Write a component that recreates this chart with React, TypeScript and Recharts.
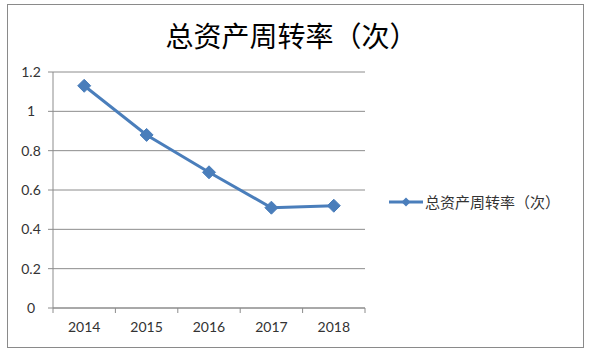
import React from 'react';
import { LineChart, Line, XAxis, YAxis, CartesianGrid } from 'recharts';

const title = '总资产周转率（次）';
const seriesName = '总资产周转率（次）';
const categories = ['2014', '2015', '2016', '2017', '2018'];
const turnover = [1.13, 0.88, 0.69, 0.51, 0.52];
const yTicks = [0, 0.2, 0.4, 0.6, 0.8, 1, 1.2];
const xBoundaries = [0, 1, 2, 3, 4, 5];

const data = categories.map((c, i) => ({ pos: i + 0.5, name: c, value: turnover[i] }));

const W = 597;
const H = 354;
const PLOT_LEFT = 53;
const PLOT_RIGHT = 365;
const PLOT_TOP = 72;
const PLOT_BOTTOM = 308;
const HALF_BAND = (PLOT_RIGHT - PLOT_LEFT) / categories.length / 2;

const BLUE = '#4A7EBB';
const GRID = '#8C8C8C';
const TXT = '#333333';
const FONT = 'Lato, "Liberation Sans", sans-serif';
const CJK = '"Noto Sans CJK SC", sans-serif';

const XTick = (props: any) => {
  const { x, y, payload } = props;
  const i = payload.value;
  if (i >= categories.length) return <g />;
  return (
    <text x={x + HALF_BAND} y={y + 17} textAnchor="middle" fontFamily={FONT} fontSize={14} fill={TXT}>
      {categories[i]}
    </text>
  );
};

const YTick = (props: any) => {
  const { x, y, payload } = props;
  return (
    <text x={x - 15} y={y + 5} textAnchor="middle" fontFamily={FONT} fontSize={14} fill={TXT}>
      {String(payload.value)}
    </text>
  );
};

const Diamond = (props: any) => {
  const { cx, cy, index } = props;
  if (cx == null || cy == null) return <g key={index} />;
  const r = 6.5;
  return (
    <path
      key={index}
      d={`M${cx},${cy - r} L${cx + r},${cy} L${cx},${cy + r} L${cx - r},${cy} Z`}
      fill={BLUE}
      stroke={BLUE}
      strokeWidth={1}
    />
  );
};

export default function App() {
  return (
    <div style={{ position: 'absolute', left: 0, top: 0, width: W, height: H, background: '#fff' }}>
      <div style={{ position: 'absolute', left: 0, top: 0 }}>
        <LineChart
          width={W}
          height={H}
          data={data}
          margin={{ top: PLOT_TOP, right: W - PLOT_RIGHT, bottom: 0, left: 0 }}
        >
          <CartesianGrid vertical={false} stroke={GRID} strokeWidth={1} />
          <XAxis
            type="number"
            dataKey="pos"
            domain={[0, categories.length]}
            ticks={xBoundaries}
            interval={0}
            height={H - PLOT_BOTTOM}
            tick={<XTick />}
            tickSize={5}
            tickLine={{ stroke: GRID }}
            axisLine={{ stroke: GRID }}
          />
          <YAxis
            type="number"
            domain={[0, 1.2]}
            ticks={yTicks}
            interval={0}
            width={PLOT_LEFT}
            tick={<YTick />}
            tickSize={5}
            tickLine={{ stroke: GRID }}
            axisLine={{ stroke: GRID }}
          />
          <Line
            type="linear"
            dataKey="value"
            name={seriesName}
            stroke={BLUE}
            strokeWidth={3}
            dot={<Diamond />}
            activeDot={false}
            isAnimationActive={false}
          />
        </LineChart>
      </div>
      <div
        style={{
          position: 'absolute',
          left: 0,
          width: 583,
          top: 16,
          textAlign: 'center',
          fontFamily: CJK,
          fontSize: 28,
          color: '#000',
          lineHeight: '38px',
        }}
      >
        {title}
      </div>
      <div style={{ position: 'absolute', left: 389, top: 191, display: 'flex', alignItems: 'center' }}>
        <svg width={34} height={12} style={{ display: 'block' }}>
          <line x1={0} y1={6} x2={34} y2={6} stroke={BLUE} strokeWidth={3} />
          <path d="M17,1.5 L21.5,6 L17,10.5 L12.5,6 Z" fill={BLUE} />
        </svg>
        <span style={{ fontFamily: CJK, fontSize: 15, color: TXT, marginLeft: 2, whiteSpace: 'nowrap', lineHeight: '22px' }}>
          {seriesName}
        </span>
      </div>
      <div
        style={{
          position: 'absolute',
          left: 7,
          top: 4,
          width: 577,
          height: 344,
          border: '1px solid #8a8a8a',
          boxSizing: 'border-box',
          pointerEvents: 'none',
        }}
      />
    </div>
  );
}
